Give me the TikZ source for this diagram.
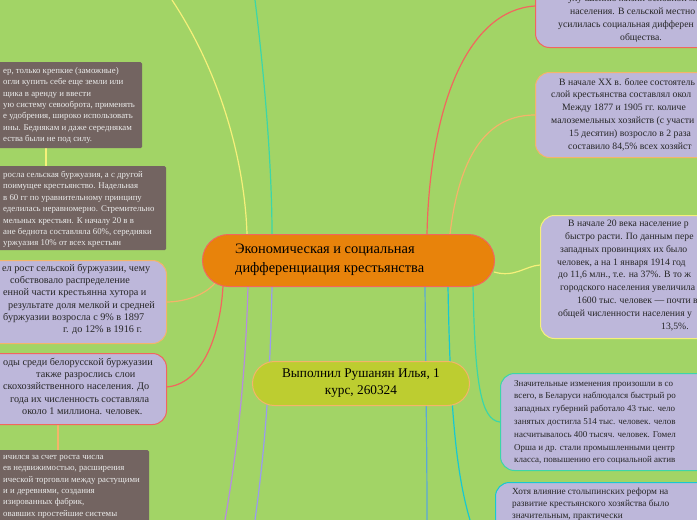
\documentclass[tikz,border=0pt]{standalone}
\usepackage{fontspec}
\setmainfont{Liberation Serif}
\begin{document}
\begin{tikzpicture}[x=1pt,y=-1pt,
  pbox/.style={draw, line width=1pt, fill=boxp, rounded corners=14pt, anchor=north west, inner sep=0},
  bbox/.style={fill=boxb, rounded corners=1.5pt, anchor=north west, inner sep=0, draw=none},
  ptxt/.style={inner sep=0, anchor=north west, align=left, text=black!85, font=\fontsize{9.7}{12.8}\selectfont},
  btxt/.style={inner sep=0, anchor=north west, align=left, text=white!92!black, font=\fontsize{8.8}{11.4}\selectfont},
  link/.style={line width=1.2pt}]
\definecolor{bg}{HTML}{A2D466}
\definecolor{boxp}{HTML}{BDB7DA}
\definecolor{boxb}{HTML}{736461}
\definecolor{corange}{HTML}{E8830B}
\definecolor{cyg}{HTML}{BDCD30}
\definecolor{lred}{HTML}{F2665E}
\definecolor{lorange}{HTML}{F4B46A}
\definecolor{lyellow}{HTML}{F5F07A}
\definecolor{lteal}{HTML}{3CD6A8}
\definecolor{lcyan}{HTML}{18C8D0}
\definecolor{lblue}{HTML}{5AA8D8}
\definecolor{lpurple}{HTML}{B58CE0}
\definecolor{lbp}{HTML}{9A9AF0}
\clip (0,0) rectangle (697,520);
\fill[bg] (0,0) rectangle (697,520);

% connectors
\coordinate (topY) at (172,0);
\coordinate (topT) at (255,0);
\coordinate (botP) at (225,520);
\coordinate (botBP) at (255,520);
\coordinate (botB) at (427,520);
\coordinate (botC) at (470,520);
\draw[link,lyellow] (topY) .. controls (225,80) and (245,170) .. (247,234);
\draw[link,lteal] (topT) .. controls (265,80) and (272,170) .. (272,234);
\draw[link,lred] (427,234) .. controls (430,100) and (470,10) .. (535,6);
\draw[link,lorange] (450,234) .. controls (460,150) and (490,115) .. (535,115);
\draw[link,lyellow] (494,272) .. controls (515,278) and (525,266) .. (540,265);
\draw[link,lblue] (425,286) .. controls (426,400) and (427,450) .. (botB);
\draw[link,lcyan] (448,286) .. controls (450,400) and (455,470) .. (botC);
\draw[link,lteal] (473,286) .. controls (475,380) and (480,420) .. (500,422);
\draw[link,lorange] (215,283) .. controls (205,295) and (185,302) .. (166,302);
\draw[link,lred] (223,286) .. controls (220,340) and (200,385) .. (166,387);
\draw[link,lpurple] (248,286) .. controls (245,400) and (232,480) .. (botP);
\draw[link,lbp] (272,286) .. controls (270,400) and (262,470) .. (botBP);
\draw[link,lyellow] (46,148) -- (46,166);
\draw[link,lorange] (58,424) -- (58,450);

% central
\node[draw=lred, line width=1pt, fill=corange, rounded corners=26pt, minimum width=292pt, minimum height=52pt, anchor=north west, inner sep=0] (ctr) at (202,234) {};
\node[inner sep=0, anchor=north west, align=left, font=\fontsize{14.4}{19}\selectfont] (ctrt) at (235,244) {Экономическая и социальная\\дифференциация крестьянства};
\node[draw=lorange, line width=1pt, fill=cyg, rounded corners=22pt, minimum width=217pt, minimum height=44pt, anchor=north west, inner sep=0, align=center, font=\fontsize{13.3}{17}\selectfont] (auth) at (252,361) {Выполнил Рушанян Илья, 1\\курс, 260324};

% left boxes
\node[bbox, minimum width=202pt, minimum height=86pt] (A) at (-60,62) {};
\node[btxt] (At) at (3,67) {ер, только крепкие (заможные)\\огли купить себе еще земли или\\щика в аренду и ввести\\ую систему севооброта, применять\\е удобрения, широко использовать\\ины. Беднякам и даже середнякам\\ества были не под силу.};
\node[bbox, minimum width=226pt, minimum height=84pt] (B) at (-60,166) {};
\node[btxt] (Bt) at (3,171) {росла сельская буржуазия, а с другой\\поимущее крестьянство. Надельная\\в 60 гг по уравнительному принципу\\еделилась неравномерно. Стремительно\\мельных крестьян. К началу 20 в в\\ане беднота составляла 60\%, середняки\\уржуазия 10\% от всех крестьян};
\node[pbox, draw=lorange, minimum width=226pt, minimum height=83pt] (C) at (-60,260) {};
\node[ptxt, font=\fontsize{10.2}{12.2}\selectfont] (Ct) at (0,264) {\hspace*{2pt}ел рост сельской буржуазии, чему\\\hspace*{10pt}собствовало распределение\\\hspace*{3pt}енной части крестьянна хутора и\\\hspace*{8pt}результате доля мелкой и средней\\\hspace*{3pt}буржуазии возросла с 9\% в 1897\\\hspace*{63pt}г. до 12\% в 1916 г.};
\node[pbox, draw=lred, minimum width=226pt, minimum height=71pt] (D) at (-60,353) {};
\node[ptxt, font=\fontsize{10.2}{12.2}\selectfont] (Dt) at (0,358) {\hspace*{3pt}оды среди белорусской буржуазии\\\hspace*{36pt}также разрослись слои\\\hspace*{3pt}скохозяйственного населения. До\\\hspace*{10pt}года их численность составляла\\\hspace*{22pt}около 1 миллиона. человек.};
\node[bbox, minimum width=209pt, minimum height=90pt] (E) at (-60,450) {};
\node[btxt] (Et) at (3,455) {ичился за счет роста числа\\ев недвижимостью, расширения\\ической торговли между растущими\\и и деревнями, создания\\изированных фабрик,\\овавших простейшие системы};

% right boxes
\node[pbox, draw=lred, minimum width=200pt, minimum height=87pt] (R1) at (535,-40) {};
\node[ptxt] (R1t) at (535,-5) {\hspace*{33pt}улучшению жизни основной массы\\\hspace*{35pt}населения. В сельской местно\\\hspace*{23pt}усилилась социальная дифферен\\\hspace*{85pt}общества.};
\node[pbox, draw=lorange, minimum width=200pt, minimum height=85pt] (R2) at (535,72) {};
\node[ptxt] (R2t) at (535,78) {\hspace*{24pt}В начале XX в. более состоятель\\\hspace*{16pt}слой крестьянства составлял окол\\\hspace*{27pt}Между 1877 и 1905 гг. количе\\\hspace*{16pt}малоземельных хозяйств (с участи\\\hspace*{34pt}15 десятин) возросло в 2 раза\\\hspace*{33pt}составило 84,5\% всех хозяйст};
\node[pbox, draw=lyellow, minimum width=200pt, minimum height=123pt] (R3) at (540,215) {};
\node[ptxt] (R3t) at (540,220) {\hspace*{28pt}В начале 20 века население р\\\hspace*{25pt}быстро расти. По данным пере\\\hspace*{20pt}западных провинциях их было\\\hspace*{17pt}человек, а на 1 января 1914 год\\\hspace*{18pt}до 11,6 млн., т.е. на 37\%. В то ж\\\hspace*{20pt}городского населения увеличила\\\hspace*{37pt}1600 тыс. человек — почти в 2\\\hspace*{18pt}общей численности населения у\\\hspace*{121pt}13,5\%.};
\node[pbox, draw=lteal, minimum width=220pt, minimum height=97pt] (R4) at (500,373) {};
\node[ptxt, font=\fontsize{9}{12.8}\selectfont] (R4t) at (514,380) {Значительные изменения произошли в со\\всего, в Беларуси наблюдался быстрый ро\\западных губерний работало 43 тыс. чело\\занятых достигла 514 тыс. человек. челов\\насчитывалось 400 тысяч. человек. Гомел\\Орша и др. стали промышленными центр\\класса, повышению его социальной актив};
\node[pbox, draw=lcyan, minimum width=220pt, minimum height=80pt] (R5) at (495,482) {};
\node[ptxt, font=\fontsize{9.3}{12}\selectfont] (R5t) at (512,488) {Хотя влияние столыпинских реформ на\\развитие крестьянского хозяйства было\\значительным, практически};
\end{tikzpicture}
\end{document}
